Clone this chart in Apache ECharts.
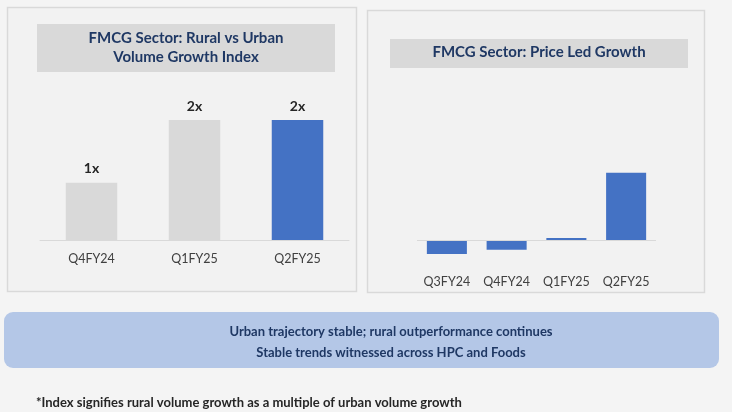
<!DOCTYPE html>
<html>
<head>
<meta charset="utf-8">
<script src="https://cdn.jsdelivr.net/npm/echarts@6/dist/echarts.min.js"></script>
<style>
html, body { margin: 0; padding: 0; background: #f4f4f4; }
#chart { width: 732px; height: 412px; }
</style>
</head>
<body>
<div id="chart"></div>
<script>
// left chart: rural vs urban volume growth index
var volQuarters = ['Q4FY24', 'Q1FY25', 'Q2FY25'];
var volIndex = [1.0, 2.1, 2.1];
var volLabels = ['1x', '2x', '2x'];
var volColors = ['#d9d9d9', '#d9d9d9', '#4472c4'];

// right chart: price led growth
var priceQuarters = ['Q3FY24', 'Q4FY24', 'Q1FY25', 'Q2FY25'];
var priceGrowth = [-1.0, -0.7, 0.15, 4.8];

var titleLeft = 'FMCG Sector: Rural vs Urban\nVolume Growth Index';
var titleRight = 'FMCG Sector: Price Led Growth';
var boxText = 'Urban trajectory stable; rural outperformance continues\nStable trends witnessed across HPC and Foods';
var footnote = '*Index signifies rural volume growth as a multiple of urban volume growth';

var FONT = 'Lato';
var navy = '#1f3864';

var myChart = echarts.init(document.getElementById('chart'));

var option = {
    backgroundColor: '#f4f4f4',
    textStyle: { fontFamily: FONT },
    animation: false,
    graphic: [
        // panels
        { type: 'rect', z: -10, shape: { x: 7.5, y: 7.5, width: 349, height: 284 },
          style: { fill: '#f2f2f2', stroke: '#d9d9d9', lineWidth: 1.5 } },
        { type: 'rect', z: -10, shape: { x: 367.5, y: 10.5, width: 337, height: 282 },
          style: { fill: '#f2f2f2', stroke: '#d9d9d9', lineWidth: 1.5 } },
        // title boxes
        { type: 'rect', z: -5, shape: { x: 37, y: 24, width: 298, height: 48 },
          style: { fill: '#d9d9d9' } },
        { type: 'text', x: 186, y: 29, style: {
            text: titleLeft, align: 'center', verticalAlign: 'top', fill: navy,
            font: 'bold 15px ' + FONT, lineHeight: 19 } },
        { type: 'rect', z: -5, shape: { x: 390, y: 39, width: 298, height: 29 },
          style: { fill: '#d9d9d9' } },
        { type: 'text', x: 539, y: 45, style: {
            text: titleRight, align: 'center', verticalAlign: 'top', fill: navy,
            font: 'bold 15px ' + FONT } },
        // bottom message box
        { type: 'rect', z: -5, shape: { x: 4, y: 312, width: 715, height: 56, r: 9 },
          style: { fill: '#b4c7e7' } },
        { type: 'text', x: 391, y: 321, style: {
            text: boxText, align: 'center', verticalAlign: 'top', fill: navy,
            font: 'bold 13px ' + FONT, lineHeight: 21 } },
        // footnote
        { type: 'text', x: 36, y: 396, style: {
            text: footnote, fill: '#262626', font: 'bold 13px ' + FONT } }
    ],
    grid: [
        { left: 40, right: 383, top: 120, bottom: 172 },
        { left: 417, right: 76, top: 170, bottom: 151 }
    ],
    xAxis: [
        {
            gridIndex: 0, type: 'category', data: volQuarters,
            axisLine: { lineStyle: { color: '#d9d9d9', width: 1 } },
            axisTick: { show: false },
            axisLabel: { color: '#404040', fontSize: 12.5, margin: 12, fontFamily: FONT }
        },
        {
            gridIndex: 1, type: 'category', data: priceQuarters,
            axisLine: { show: false, onZero: false },
            axisTick: { show: false },
            axisLabel: { interval: 0, color: '#404040', fontSize: 12.5, margin: 14, fontFamily: FONT }
        }
    ],
    yAxis: [
        { gridIndex: 0, type: 'value', min: 0, max: 2.1, show: false, splitLine: { show: false } },
        { gridIndex: 1, type: 'value', min: -1.5, max: 5, show: false, splitLine: { show: false } }
    ],
    series: [
        {
            type: 'bar', xAxisIndex: 0, yAxisIndex: 0, barWidth: '50%',
            data: volIndex.map(function (v, i) {
                return { value: v, itemStyle: { color: volColors[i] } };
            }),
            label: {
                show: true, position: 'top', distance: 7,
                color: '#262626', fontWeight: 'bold', fontSize: 14, fontFamily: FONT,
                formatter: function (p) { return volLabels[p.dataIndex]; }
            }
        },
        {
            type: 'bar', xAxisIndex: 1, yAxisIndex: 1, barWidth: '67%',
            itemStyle: { color: '#4472c4' },
            data: priceGrowth,
            markLine: {
                silent: true, symbol: 'none', label: { show: false },
                lineStyle: { color: '#d9d9d9', type: 'solid', width: 1 },
                data: [{ yAxis: 0 }]
            }
        }
    ]
};

myChart.setOption(option);
</script>
</body>
</html>
